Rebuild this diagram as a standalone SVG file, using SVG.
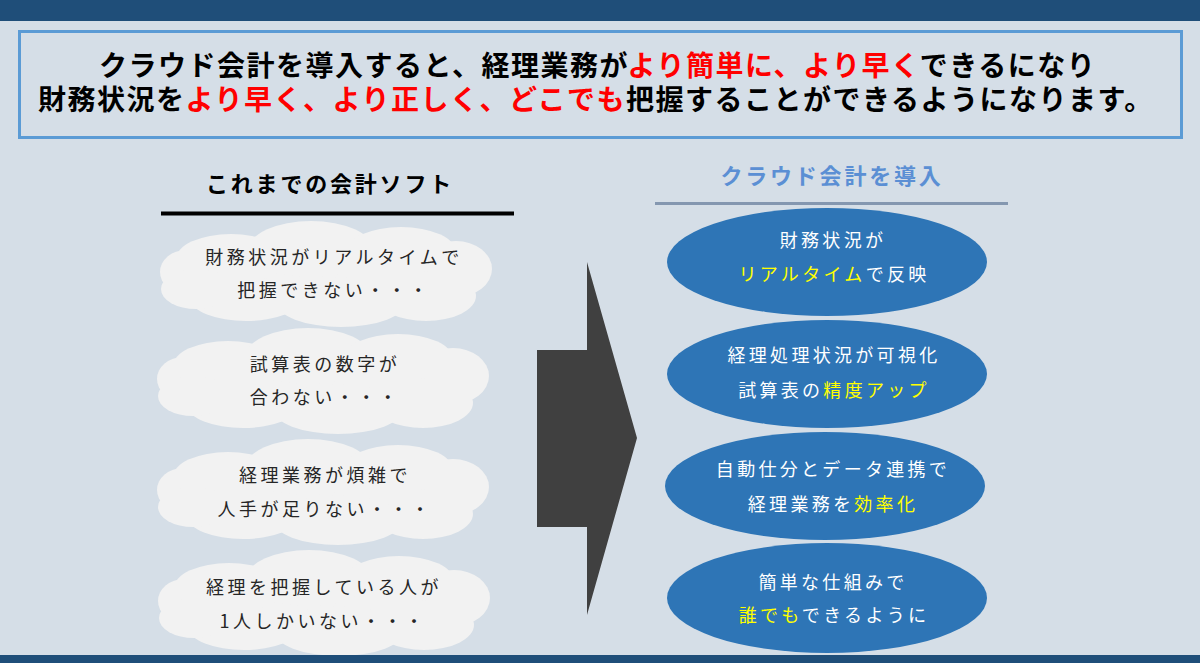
<svg xmlns="http://www.w3.org/2000/svg" xmlns:xlink="http://www.w3.org/1999/xlink" width="1200" height="663" viewBox="0 0 1200 663">
<style>
  text { font-family: "Noto Sans CJK JP", "Noto Sans", sans-serif; }
  .title { font-size: 28px; font-weight: 700; fill: #000000; letter-spacing: 1.5px; }
  .red { fill: #ff0000; }
  .hdr { font-size: 22px; font-weight: 700; letter-spacing: 2.8px; text-anchor: middle; }
  .cloudtxt { font-size: 18px; fill: #262626; letter-spacing: 3.5px; text-anchor: middle; }
  .elltxt { font-size: 18px; fill: #ffffff; letter-spacing: 3.3px; text-anchor: middle; }
  .yel { fill: #ffff00; }
  .cloud { fill: #f2f2f2; }
  .oval { fill: #2e75b6; }
</style>
<defs>
  <g id="cloudShape" class="cloud">
    <ellipse cx="0" cy="0" rx="140" ry="36"/>
    <ellipse cx="-140" cy="-2" rx="26" ry="22"/>
    <ellipse cx="-95" cy="-15" rx="55" ry="25"/>
    <ellipse cx="-15" cy="-25" rx="62" ry="28"/>
    <ellipse cx="75" cy="-22" rx="55" ry="25"/>
    <ellipse cx="130" cy="-5" rx="36" ry="28"/>
    <ellipse cx="100" cy="22" rx="50" ry="25"/>
    <ellipse cx="15" cy="28" rx="65" ry="25"/>
    <ellipse cx="-80" cy="25" rx="55" ry="22"/>
    <ellipse cx="-130" cy="15" rx="35" ry="20"/>
  </g>
</defs>

<rect x="0" y="0" width="1200" height="663" fill="#d5dee7"/>
<rect x="0" y="0" width="1200" height="21" fill="#1f4e79"/>

<g id="titleBox">
  <rect x="19.5" y="31.5" width="1162" height="106" fill="none" stroke="#5b9bd5" stroke-width="3"/>
  <text class="title" x="99" y="76">クラウド会計を導入すると、経理業務が<tspan class="red">より簡単に、より早く</tspan>できるになり</text>
  <text class="title" x="38" y="110">財務状況を<tspan class="red">より早く、より正しく、どこでも</tspan>把握することができるようになります。</text>
</g>

<g id="leftHeader">
  <text class="hdr" x="330" y="192" fill="#000000">これまでの会計ソフト</text>
  <line x1="161" y1="213.5" x2="514" y2="213.5" stroke="#000000" stroke-width="4"/>
</g>

<g id="rightHeader">
  <text class="hdr" x="832" y="184" fill="#5b8fd4">クラウド会計を導入</text>
  <line x1="655" y1="203.5" x2="1008" y2="203.5" stroke="#8497b0" stroke-width="3"/>
</g>

<g id="cloud1">
  <use xlink:href="#cloudShape" transform="translate(326,274)"/>
  <text class="cloudtxt" x="334" y="264">財務状況がリアルタイムで</text>
  <text class="cloudtxt" x="334" y="297">把握できない・・・</text>
</g>
<g id="cloud2">
  <use xlink:href="#cloudShape" transform="translate(323,381)"/>
  <text class="cloudtxt" x="325" y="371">試算表の数字が</text>
  <text class="cloudtxt" x="325" y="404">合わない・・・</text>
</g>
<g id="cloud3">
  <use xlink:href="#cloudShape" transform="translate(323,492)"/>
  <text class="cloudtxt" x="325" y="482">経理業務が煩雑で</text>
  <text class="cloudtxt" x="325" y="516">人手が足りない・・・</text>
</g>
<g id="cloud4">
  <use xlink:href="#cloudShape" transform="translate(324,603)"/>
  <text class="cloudtxt" x="324" y="594">経理を把握している人が</text>
  <text class="cloudtxt" x="323" y="628">1人しかいない・・・</text>
</g>

<g id="connectors">
  <polygon points="537,350 587,350 587,262 637,438 587,615 587,527 537,527" fill="#404040"/>
</g>

<g id="oval1">
  <ellipse class="oval" cx="827" cy="262" rx="160" ry="54"/>
  <text class="elltxt" x="833" y="247">財務状況が</text>
  <text class="elltxt" x="834" y="281"><tspan class="yel">リアルタイム</tspan>で反映</text>
</g>
<g id="oval2">
  <ellipse class="oval" cx="827" cy="374" rx="160" ry="54"/>
  <text class="elltxt" x="834" y="362">経理処理状況が可視化</text>
  <text class="elltxt" x="834" y="397">試算表の<tspan class="yel">精度アップ</tspan></text>
</g>
<g id="oval3">
  <ellipse class="oval" cx="825" cy="486" rx="160" ry="54"/>
  <text class="elltxt" x="833" y="476">自動仕分とデータ連携で</text>
  <text class="elltxt" x="833" y="511">経理業務を<tspan class="yel">効率化</tspan></text>
</g>
<g id="oval4">
  <ellipse class="oval" cx="827" cy="598" rx="160" ry="55"/>
  <text class="elltxt" x="833" y="589">簡単な仕組みで</text>
  <text class="elltxt" x="834" y="622"><tspan class="yel">誰でも</tspan>できるように</text>
</g>

<rect x="0" y="655" width="1200" height="8" fill="#1f4e79"/>
</svg>
